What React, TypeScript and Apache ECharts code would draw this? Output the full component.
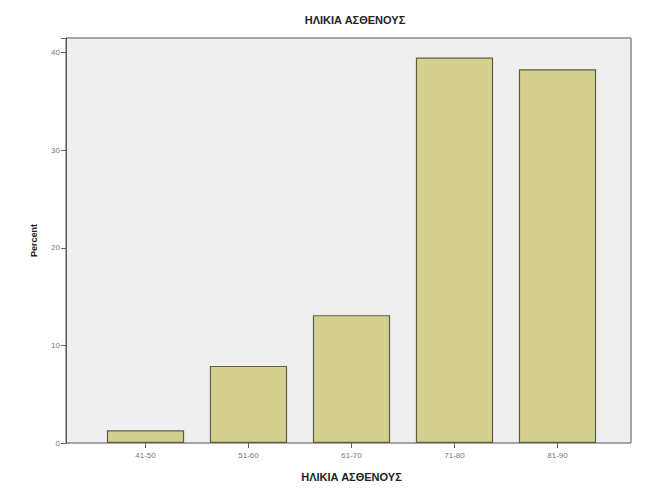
import React, { useEffect, useRef } from "react";
import * as echarts from "echarts";

const categories = ["41-50", "51-60", "61-70", "71-80", "81-90"];
const percents = [1.3, 7.9, 13.1, 39.5, 38.3];
const yTicks = [0, 10, 20, 30, 40];
const titleText = "ΗΛΙΚΙΑ ΑΣΘΕΝΟΥΣ";
const xName = "ΗΛΙΚΙΑ ΑΣΘΕΝΟΥΣ";
const yName = "Percent";

export default function App() {
  const ref = useRef<HTMLDivElement>(null);
  useEffect(() => {
    const chart = echarts.init(ref.current!, null, { renderer: "svg" });
    const yMax = 41.5;
    chart.setOption({
      animation: false,
      backgroundColor: "#ffffff",
      title: {
        text: titleText,
        left: 350,
        top: 9,
        textAlign: "center",
        textStyle: { fontFamily: "Liberation Sans", fontSize: 11, fontWeight: "bold", color: "#222" },
      },
      grid: [
        {
          left: 66,
          top: 38,
          width: 565,
          height: 405,
          show: true,
          backgroundColor: "#efefef",
          borderColor: "#555",
          borderWidth: 1,
        },
        {
          left: 94,
          top: 38,
          width: 515,
          height: 405,
        },
      ],
      xAxis: [
        {
          type: "category",
          gridIndex: 0,
          data: [""],
          show: false,
        },
        {
          type: "category",
          gridIndex: 1,
          data: categories,
          name: xName,
          nameLocation: "middle",
          nameGap: 28,
          nameTextStyle: { fontFamily: "Liberation Sans", fontSize: 11, fontWeight: "bold", color: "#222" },
          axisLine: { show: false },
          axisTick: { show: true, alignWithLabel: true, length: 5, lineStyle: { color: "#666" } },
          axisLabel: { fontSize: 8, color: "#777", fontFamily: "Liberation Sans", margin: 8 },
        },
      ],
      yAxis: [
        {
          type: "value",
          gridIndex: 0,
          min: 0,
          max: yMax,
          interval: 10,
          name: yName,
          nameLocation: "middle",
          nameGap: 28,
          nameTextStyle: { fontFamily: "Liberation Sans", fontSize: 9, fontWeight: "bold", color: "#222" },
          axisLine: { show: true, lineStyle: { color: "#555" } },
          axisTick: { show: true, length: 5, lineStyle: { color: "#666" } },
          splitLine: { show: false },
          axisLabel: {
            fontSize: 8,
            color: "#777",
            fontFamily: "Liberation Sans",
            margin: 6,
            formatter: (v: number) => (yTicks.includes(v) ? String(v) : ""),
          },
        },
        {
          type: "value",
          gridIndex: 1,
          min: 0,
          max: yMax,
          show: false,
          splitLine: { show: false },
        },
      ],
      series: [
        {
          type: "bar",
          xAxisIndex: 1,
          yAxisIndex: 1,
          data: percents,
          barCategoryGap: "25%",
          itemStyle: { color: "#d4d18f", borderColor: "#5e5e48", borderWidth: 1.2 },
        },
      ],
    });
    return () => chart.dispose();
  }, []);
  return <div ref={ref} style={{ width: 645, height: 493, position: "absolute", left: 0, top: 0 }} />;
}
